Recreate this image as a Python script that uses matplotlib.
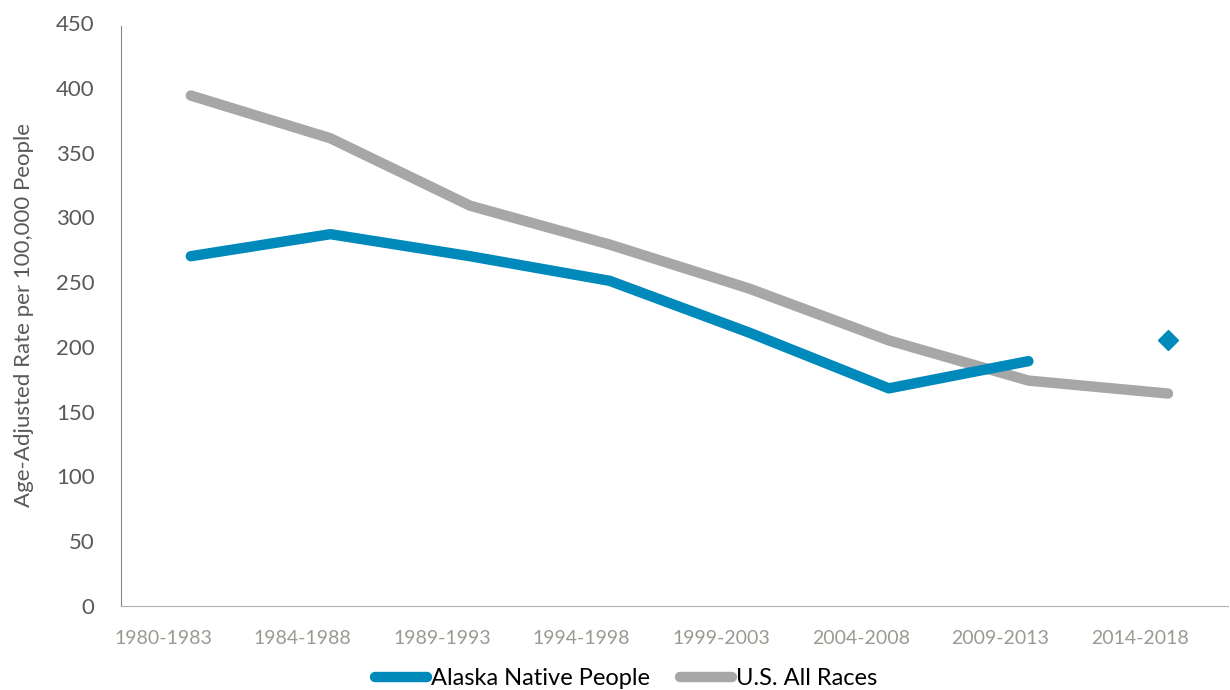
import matplotlib.pyplot as plt
from matplotlib.lines import Line2D

periods = ['1980-1983', '1984-1988', '1989-1993', '1994-1998',
           '1999-2003', '2004-2008', '2009-2013', '2014-2018']
alaska = [270, 287, 270, 251, 211, 168, 189]
alaska_latest = 205
us_all = [394, 361, 309, 279, 245, 205, 174, 164]

blue = '#0089bb'
gray = '#a6a7a6'

plt.rcParams['font.family'] = ['Lato', 'DejaVu Sans']

fig = plt.figure(figsize=(12.3, 6.9), dpi=100)
ax = fig.add_axes([0.0984, 0.1217, 0.9, 0.845])

x = list(range(len(periods)))
ax.plot(x, us_all, color=gray, lw=7.5, solid_capstyle='round', solid_joinstyle='round')
ax.plot(x[:len(alaska)], alaska, color=blue, lw=7.5, solid_capstyle='round', solid_joinstyle='round')
ax.plot([x[-1]], [alaska_latest], marker='D', color=blue, ms=10, ls='none')

ax.set_xlim(-0.5, len(periods) - 0.57)
ax.set_ylim(0, 450)
ax.set_yticks(range(0, 451, 50))
# category labels sit a little left of the data points, as in the original
ax.set_xticks([i - 0.2 for i in x])
ax.set_xticklabels(periods, color='#9a9a92', fontsize=14)
ax.tick_params(axis='y', labelsize=16, labelcolor='#595959', length=0, pad=19)
ax.tick_params(axis='x', length=0, pad=17)
ax.set_ylabel('Age-Adjusted Rate per 100,000 People', fontsize=16, color='#595959', labelpad=16)

for s in ['top', 'right']:
    ax.spines[s].set_visible(False)
ax.spines['left'].set_color('#888888')
ax.spines['bottom'].set_color('#b0b0a8')
ax.spines['left'].set_bounds(0, 448)

handles = [Line2D([], [], color=blue, lw=7.5, solid_capstyle='round'),
           Line2D([], [], color=gray, lw=7.5, solid_capstyle='round')]
fig.legend(handles, ['Alaska Native People', 'U.S. All Races'], loc='lower center',
           bbox_to_anchor=(0.509, -0.03), ncol=2, frameon=False, handlelength=2.2,
           handletextpad=0.15, columnspacing=1.3, prop={'size': 17})

fig.savefig('out.png', dpi=100)
